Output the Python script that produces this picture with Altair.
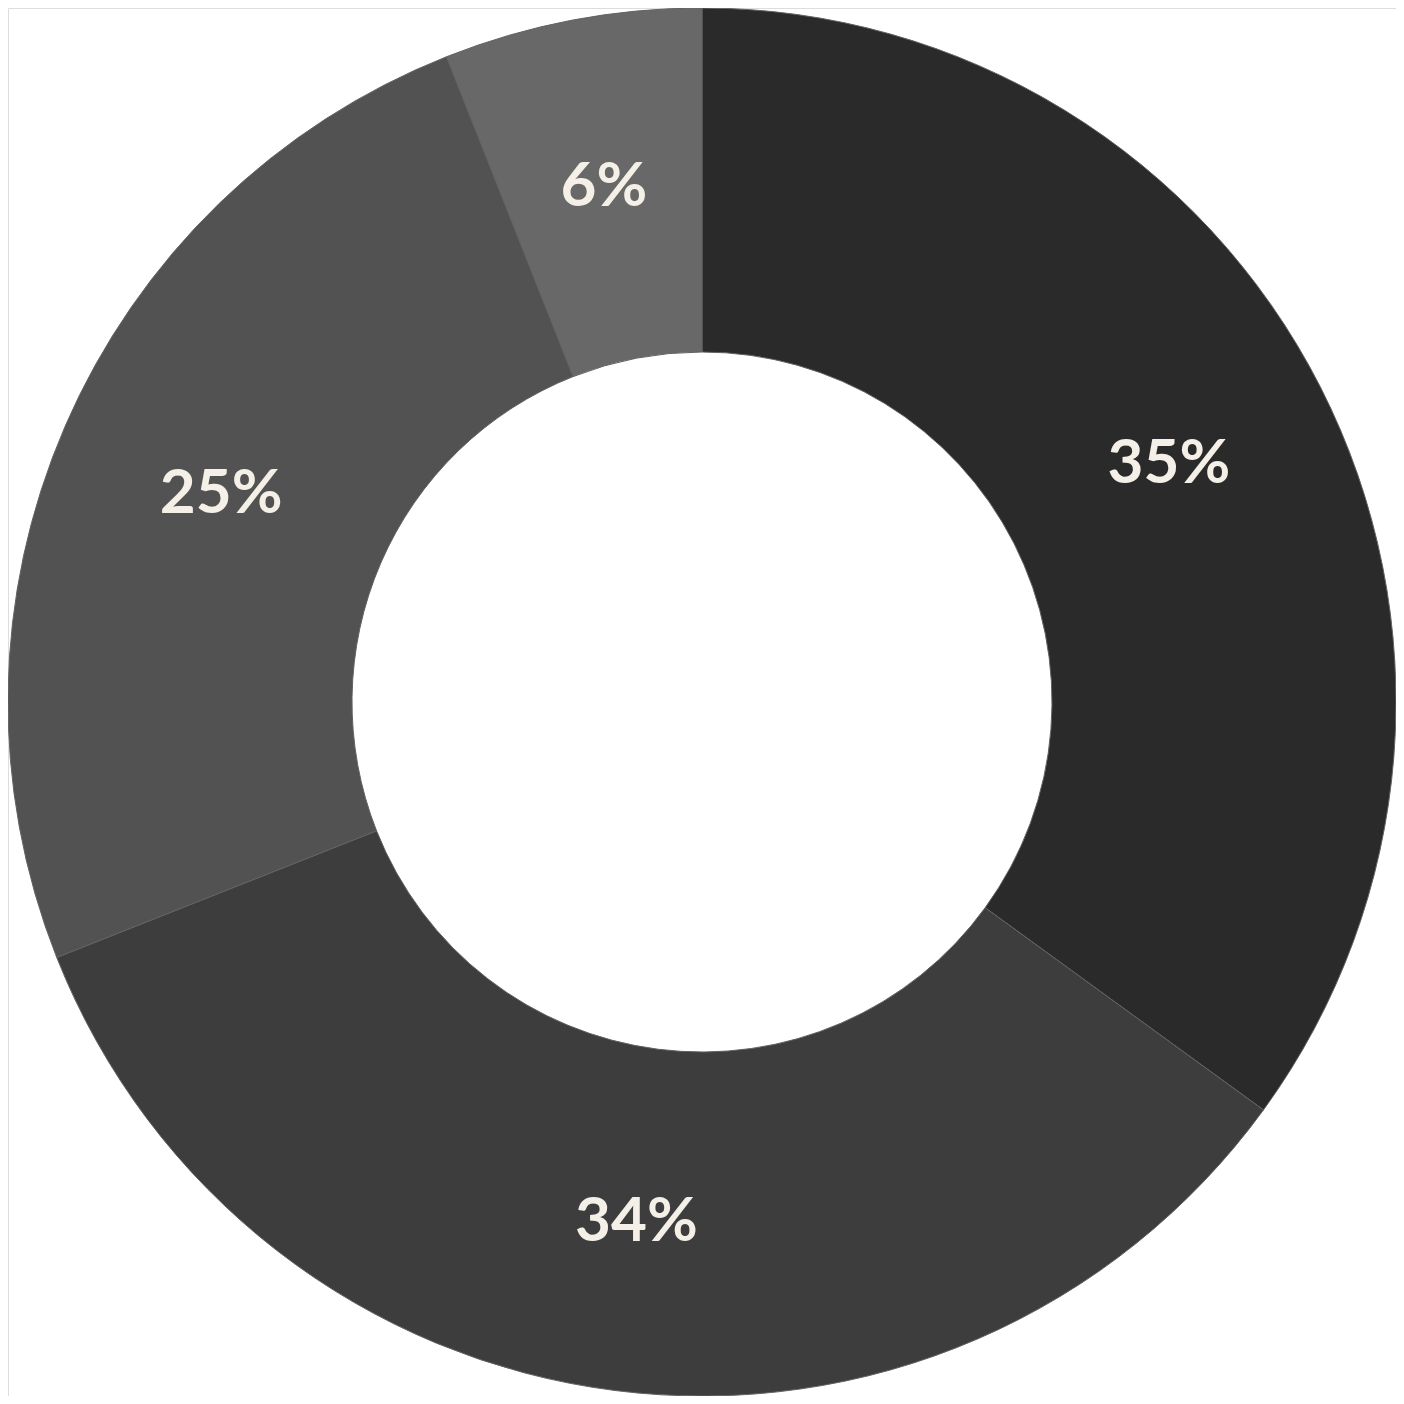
import altair as alt
import pandas as pd

categories = ["A", "B", "C", "D"]
values = [35, 34, 25, 6]
labels = ["35%", "34%", "25%", "6%"]
colors = ["#2a2a2a", "#3d3d3d", "#525252", "#686868"]

df = pd.DataFrame({"cat": categories, "value": values, "label": labels, "order": [0, 1, 2, 3]})

base = alt.Chart(df).encode(
    theta=alt.Theta("value:Q", stack=True),
    order=alt.Order("order:Q"),
    x=alt.value(694),
    y=alt.value(694),
)

arcs = base.mark_arc(outerRadius=694, innerRadius=350, stroke="#626262", strokeWidth=1).encode(
    color=alt.Color("cat:N", scale=alt.Scale(domain=categories, range=colors), legend=None)
)

text = base.mark_text(radius=524, font="Lato", fontSize=62, fontWeight="bold", color="#f4f0e8",
                      baseline="middle", align="center").encode(
    text="label:N"
)

chart = (arcs + text).properties(
    width=1388, height=1388, padding=0, autosize=alt.AutoSizeParams(type="none")
).configure_view(stroke="transparent", strokeWidth=0).configure(background="white")

chart.save("out.html", embed_options={"renderer": "svg", "actions": False})
